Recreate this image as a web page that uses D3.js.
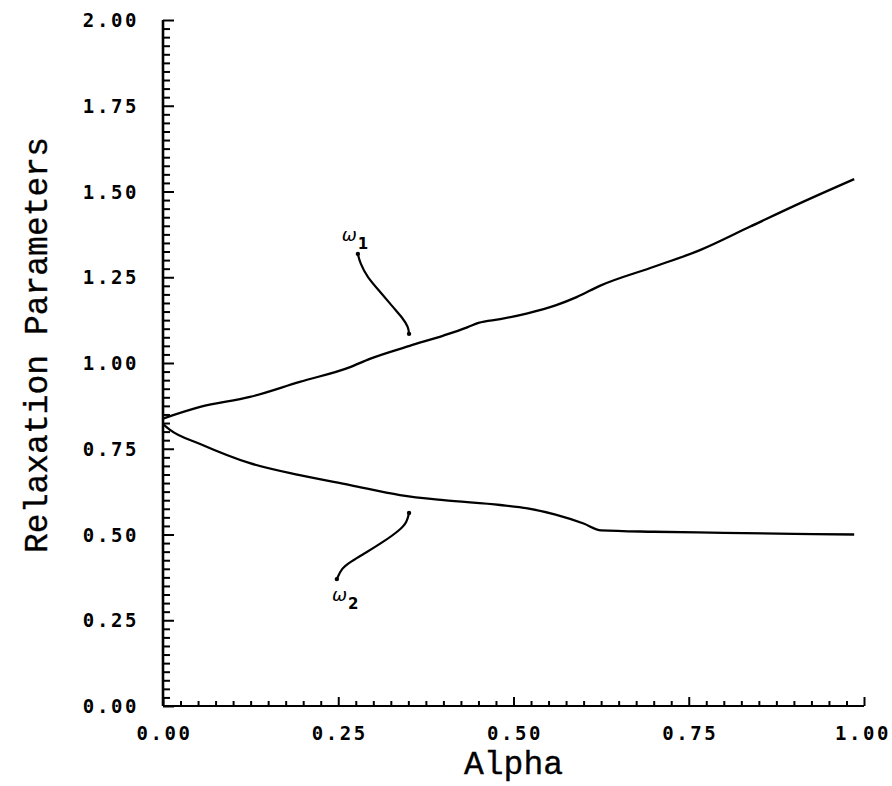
<!DOCTYPE html>
<html><head><meta charset="utf-8">
<script src="https://cdn.jsdelivr.net/npm/d3@7"></script>
<style>body{margin:0;background:#fff}svg{display:block}</style>
</head><body>
<svg id="c" width="892" height="786"></svg>
<script>
// ---- data ----
const alphaUpper = [0.0, 0.053, 0.124, 0.195, 0.267, 0.295, 0.352, 0.40, 0.434, 0.45, 0.481, 0.52, 0.56, 0.59, 0.623, 0.695, 0.766, 0.837, 0.909, 0.986];
const omega1     = [0.838, 0.872, 0.901, 0.945, 0.988, 1.012, 1.050, 1.080, 1.104, 1.117, 1.128, 1.145, 1.168, 1.192, 1.225, 1.277, 1.329, 1.397, 1.466, 1.536];
const alphaLower = [0.0, 0.01, 0.053, 0.124, 0.195, 0.267, 0.338, 0.40, 0.481, 0.52, 0.56, 0.60, 0.625, 0.70, 0.80, 0.90, 0.986];
const omega2     = [0.822, 0.805, 0.764, 0.708, 0.673, 0.644, 0.615, 0.600, 0.586, 0.576, 0.558, 0.532, 0.512, 0.508, 0.505, 0.502, 0.500];
const pointer1A = [0.278, 0.281, 0.291, 0.310, 0.328, 0.342, 0.350, 0.351];
const pointer1V = [1.318, 1.292, 1.251, 1.207, 1.163, 1.131, 1.105, 1.085];
const pointer2A = [0.351, 0.348, 0.338, 0.314, 0.291, 0.267, 0.255, 0.248];
const pointer2V = [0.563, 0.536, 0.513, 0.478, 0.449, 0.420, 0.402, 0.370];
const xTicks = [0, 0.25, 0.5, 0.75, 1.0];
const yTicks = [0, 0.25, 0.5, 0.75, 1.0, 1.25, 1.5, 1.75, 2.0];
const labels = [{t:"ω", s:"1", a:0.255, v:1.356}, {t:"ω", s:"2", a:0.241, v:0.305}];

// ---- layout ----
const L = 163, R = 864, T = 20, B = 706;
const svg = d3.select("#c");
const x = d3.scaleLinear().domain([0, 1]).range([L, R]);
const y = d3.scaleLinear().domain([0, 2]).range([B, T]);
const tickFont = "'DejaVu Sans Mono', monospace";
const titleFont = "'Liberation Mono', 'Courier New', monospace";

// minor ticks
const minorX = d3.range(0, 41).map(i => i * 0.025);
const minorY = d3.range(0, 81).map(i => i * 0.025);
const isMajor = d => Math.abs(d * 4 - Math.round(d * 4)) < 1e-6;

const xAxis = d3.axisBottom(x).tickValues(minorX).tickSize(0).tickFormat("");
const gx = svg.append("g").attr("transform", `translate(0,${B})`).call(xAxis);
gx.select(".domain").attr("stroke", "#000").attr("stroke-width", 2.2).attr("d", `M${L},0H${R}`);
gx.selectAll(".tick line").remove();
gx.selectAll(".tick").append("line")
  .attr("y1", 0).attr("y2", d => isMajor(d) ? -9 : -5)
  .attr("stroke", "#000").attr("stroke-width", 2);

const yAxis = d3.axisLeft(y).tickValues(minorY).tickSize(0).tickFormat("");
const gy = svg.append("g").attr("transform", `translate(${L},0)`).call(yAxis);
gy.select(".domain").attr("stroke", "#000").attr("stroke-width", 2.6).attr("d", `M0,${T}V${B}`);
gy.selectAll(".tick line").remove();
gy.selectAll(".tick").append("line")
  .attr("x1", 0).attr("x2", d => isMajor(d) ? 11 : 7)
  .attr("stroke", "#000").attr("stroke-width", 2);

// tick labels
svg.append("g").selectAll("text").data(xTicks).join("text")
  .attr("x", d => x(d) + (d === 1 ? -1 : 1.5)).attr("y", B + 34)
  .attr("text-anchor", "middle")
  .attr("font-family", tickFont).attr("font-weight", "bold")
  .attr("font-size", 19).attr("letter-spacing", 2.6)
  .text(d => d.toFixed(2));
svg.append("g").selectAll("text").data(yTicks).join("text")
  .attr("x", L - 24).attr("y", d => y(d) + 7)
  .attr("text-anchor", "end")
  .attr("font-family", tickFont).attr("font-weight", "bold")
  .attr("font-size", 19).attr("letter-spacing", 2.6)
  .text(d => d.toFixed(2));

// titles
svg.append("text").attr("x", (L + R) / 2).attr("y", 774)
  .attr("text-anchor", "middle").attr("font-family", titleFont)
  .attr("font-size", 33).attr("stroke", "#000").attr("stroke-width", 0.35)
  .text("Alpha");
svg.append("text").attr("transform", `translate(47,${(T + B) / 2 - 18}) rotate(-90)`)
  .attr("text-anchor", "middle").attr("font-family", titleFont)
  .attr("font-size", 33).attr("stroke", "#000").attr("stroke-width", 0.35)
  .text("Relaxation Parameters");

// curves
const line = d3.line().x(d => x(d[0])).y(d => y(d[1])).curve(d3.curveMonotoneX);
const up = alphaUpper.map((a, i) => [a, omega1[i]]);
const lo = alphaLower.map((a, i) => [a, omega2[i]]);
svg.append("path").attr("d", line(up)).attr("fill", "none").attr("stroke", "#000").attr("stroke-width", 2.3);
svg.append("path").attr("d", line(lo)).attr("fill", "none").attr("stroke", "#000").attr("stroke-width", 2.3);

// pointers
const pline = d3.line().x(d => x(d[0])).y(d => y(d[1])).curve(d3.curveBasis);
const p1 = pointer1A.map((a, i) => [a, pointer1V[i]]);
const p2 = pointer2A.map((a, i) => [a, pointer2V[i]]);
[p1, p2].forEach(p => {
  svg.append("path").attr("d", pline(p)).attr("fill", "none").attr("stroke", "#000").attr("stroke-width", 2.2);
  [p[0], p[p.length - 1]].forEach(e => svg.append("circle").attr("cx", x(e[0])).attr("cy", y(e[1])).attr("r", 2.2).attr("fill", "#000"));
});

// omega labels
labels.forEach(l => {
  const t = svg.append("text").attr("x", x(l.a)).attr("y", y(l.v))
    .attr("font-family", "'DejaVu Sans', sans-serif").attr("font-size", 18).attr("font-style", "italic");
  t.append("tspan").text(l.t);
  t.append("tspan").attr("dy", 8).attr("dx", 1).attr("font-size", 15).attr("font-style", "normal").attr("font-weight", "bold").text(l.s);
});
</script>
</body></html>
